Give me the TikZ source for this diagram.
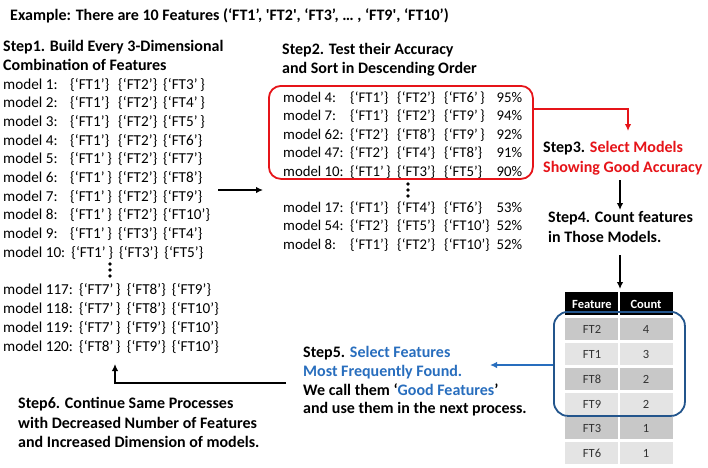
\documentclass[tikz,border=0pt]{standalone}
\usepackage{fontspec}
\setmainfont{Carlito}
\usetikzlibrary{arrows.meta}
\definecolor{myred}{RGB}{230,20,25}
\definecolor{myblue}{RGB}{40,110,190}
\definecolor{boxblue}{RGB}{35,85,140}
\definecolor{rowdark}{RGB}{200,200,200}
\definecolor{rowlight}{RGB}{228,228,228}
\definecolor{celltxt}{RGB}{50,50,50}
\newcommand{\fbr}[1]{\{‘#1’\}}
\newcommand{\gp}{\hspace{6pt}}
\newcommand{\colSa}[1]{\makebox[67pt][l]{#1}}
\newcommand{\colSb}[1]{\makebox[48pt][l]{#1}}
\newcommand{\colSc}[1]{\makebox[45pt][l]{#1}}
\newcommand{\colTa}[1]{\makebox[67pt][l]{#1}}
\newcommand{\colTb}[1]{\makebox[47pt][l]{#1}}
\newcommand{\colTc}[1]{\makebox[47pt][l]{#1}}
\newcommand{\colTd}[2]{\makebox[78pt][l]{#1\hfill #2}}
\begin{document}
\begin{tikzpicture}[x=1pt,y=-1pt,
  txt/.style={anchor=base west, inner sep=0pt, font=\fontsize{15.2}{18}\selectfont},
  rtxt/.style={anchor=base west, inner sep=0pt, font=\fontsize{14.8}{18}\selectfont},
  hd/.style={anchor=base west, inner sep=0pt, font=\fontsize{16}{19}\selectfont\bfseries},
  arr/.style={-{Latex[length=7pt,width=6.5pt]}, line width=1.4pt},
  dot/.style={circle, fill=black, inner sep=0pt, minimum size=3.8pt},
  hdcell/.style={fill=black, text=white, font=\fontsize{12.5}{14}\selectfont\bfseries, inner sep=0pt},
  cell/.style={text=celltxt, font=\fontsize{12.5}{14}\selectfont, inner sep=0pt}]
\useasboundingbox (0,0) rectangle (708,467);
\fill[white] (0,0) rectangle (708,467);

% title
\node[hd] (title) at (10,20) {Example: There are 10 Features (‘FT1’, \textquotesingle FT2\textquotesingle, ‘FT3’, … , ‘FT9\textquotesingle, ‘FT10’)};

% Step 1
\node[hd] (s1a) at (3,51) {Step1. Build Every 3-Dimensional};
\node[hd] (s1b) at (3,70.5) {Combination of Features};
\node[txt] (m1) at (3,89.0) {\colSa{model 1:}\colSb{\fbr{FT1}}\colSc{\fbr{FT2}}\{‘FT3’\,\}};
\node[txt] (m2) at (3,107.7) {\colSa{model 2:}\colSb{\fbr{FT1}}\colSc{\fbr{FT2}}\{‘FT4’\,\}};
\node[txt] (m3) at (3,126.4) {\colSa{model 3:}\colSb{\fbr{FT1}}\colSc{\fbr{FT2}}\{‘FT5’\,\}};
\node[txt] (m4) at (3,145.1) {\colSa{model 4:}\colSb{\fbr{FT1}}\colSc{\fbr{FT2}}\fbr{FT6}};
\node[txt] (m5) at (3,163.8) {\colSa{model 5:}\colSb{\{‘FT1’\,\}}\colSc{\fbr{FT2}}\fbr{FT7}};
\node[txt] (m6) at (3,182.5) {\colSa{model 6:}\colSb{\{‘FT1’\,\}}\colSc{\fbr{FT2}}\fbr{FT8}};
\node[txt] (m7) at (3,201.2) {\colSa{model 7:}\colSb{\{‘FT1’\,\}}\colSc{\fbr{FT2}}\fbr{FT9}};
\node[txt] (m8) at (3,219.9) {\colSa{model 8:}\colSb{\{‘FT1’\,\}}\colSc{\fbr{FT2}}\fbr{FT10}};
\node[txt] (m9) at (3,238.6) {\colSa{model 9:}\colSb{\{‘FT1’\,\}}\colSc{\fbr{FT3}}\fbr{FT4}};
\node[txt] (m10) at (3,257.3) {model 10:\gp\{‘FT1’\,\}\gp\fbr{FT3}\gp\fbr{FT5}};
\node[dot] (d1a) at (110,264) {};
\node[dot] (d1b) at (110,270) {};
\node[dot] (d1c) at (110,276) {};
\node[txt] (m117) at (3,294.5) {model 117:\gp\{‘FT7’\,\}\gp\fbr{FT8}\gp\fbr{FT9}};
\node[txt] (m118) at (3,313.5) {model 118:\gp\{‘FT7’\,\}\gp\fbr{FT8}\gp\fbr{FT10}};
\node[txt] (m119) at (3,332.5) {model 119:\gp\{‘FT7’\,\}\gp\fbr{FT9}\gp\fbr{FT10}};
\node[txt] (m120) at (3,351.5) {model 120:\gp\{‘FT8’\,\}\gp\fbr{FT9}\gp\fbr{FT10}};

% Step1 -> Step2
\coordinate (a1s) at (218,190);
\coordinate (a1e) at (263,190);
\draw[arr] (a1s) -- (a1e);

% Step 2
\node[hd] (s2a) at (282,54) {Step2. Test their Accuracy};
\node[hd] (s2b) at (282,73.5) {and Sort in Descending Order};
\node[draw=myred, line width=1.8pt, rounded corners=12pt, minimum width=264pt, minimum height=93pt, anchor=north west, inner sep=0pt] (redbox) at (268,85) {};
\node[rtxt] (r1) at (283,102) {\colTa{model 4:}\colTb{\fbr{FT1}}\colTc{\fbr{FT2}}\colTd{\{‘FT6’\,\}}{95\%}};
\node[rtxt] (r2) at (283,120.5) {\colTa{model 7:}\colTb{\fbr{FT1}}\colTc{\fbr{FT2}}\colTd{\{‘FT9’\,\}}{94\%}};
\node[rtxt] (r3) at (283,139) {\colTa{model 62:}\colTb{\fbr{FT2}}\colTc{\fbr{FT8}}\colTd{\{‘FT9’\,\}}{92\%}};
\node[rtxt] (r4) at (283,157.5) {\colTa{model 47:}\colTb{\fbr{FT2}}\colTc{\fbr{FT4}}\colTd{\fbr{FT8}}{91\%}};
\node[rtxt] (r5) at (283,176) {\colTa{model 10:}\colTb{\{‘FT1’\,\}}\colTc{\fbr{FT3}}\colTd{\fbr{FT5}}{90\%}};
\node[dot] (d2a) at (408,184) {};
\node[dot] (d2b) at (408,190) {};
\node[dot] (d2c) at (408,196) {};
\node[rtxt] (r6) at (283,212) {\colTa{model 17:}\colTb{\fbr{FT1}}\colTc{\fbr{FT4}}\colTd{\fbr{FT6}}{53\%}};
\node[rtxt] (r7) at (283,230.5) {\colTa{model 54:}\colTb{\fbr{FT2}}\colTc{\fbr{FT5}}\colTd{\fbr{FT10}\,}{52\%}};
\node[rtxt] (r8) at (283,249) {\colTa{model 8:}\colTb{\fbr{FT1}}\colTc{\fbr{FT2}}\colTd{\fbr{FT10}\,}{52\%}};

% Step 3
\coordinate (redc) at (628,109);
\coordinate (rede) at (628,131);
\draw[myred, line width=1.5pt, -{Latex[length=7pt,width=6.5pt]}] (redbox.east |- redc) -- (redc) -- (rede);
\node[hd] (s3a) at (543,152.5) {Step3. \textcolor{myred}{Select Models}};
\node[hd] (s3b) at (543,172.5) {\textcolor{myred}{Showing Good Accuracy}};

% Step 4
\coordinate (a3s) at (620,180);
\coordinate (a3e) at (620,210);
\draw[arr] (a3s) -- (a3e);
\node[hd] (s4a) at (548,222.5) {Step4. Count features};
\node[hd] (s4b) at (548,242.5) {in Those Models.};
\coordinate (a4s) at (620,255);
\coordinate (a4e) at (620,289);
\draw[arr] (a4s) -- (a4e);

% table
\fill[black] (565,292) rectangle (673,315);
\fill[rowdark]  (565,318) rectangle (673,340);
\fill[rowlight] (565,343) rectangle (673,365);
\fill[rowdark]  (565,367.5) rectangle (673,390);
\fill[rowlight] (565,392.5) rectangle (673,415);
\fill[rowdark]  (565,417) rectangle (673,439);
\fill[rowlight] (565,442) rectangle (673,464);
\draw[white, line width=1.6pt] (619,292) -- (619,464);
\node[hdcell] (hf) at (592,304) {Feature};
\node[hdcell] (hc) at (646,304) {Count};
\node[cell] (f1) at (592,329) {FT2};  \node[cell] (c1) at (646,329) {4};
\node[cell] (f2) at (592,354) {FT1};  \node[cell] (c2) at (646,354) {3};
\node[cell] (f3) at (592,379) {FT8};  \node[cell] (c3) at (646,379) {2};
\node[cell] (f4) at (592,404) {FT9};  \node[cell] (c4) at (646,404) {2};
\node[cell] (f5) at (592,428) {FT3};  \node[cell] (c5) at (646,428) {1};
\node[cell] (f6) at (592,453) {FT6};  \node[cell] (c6) at (646,453) {1};
\node[draw=boxblue, line width=1.8pt, rounded corners=14pt, minimum width=131pt, minimum height=104pt, anchor=north west, inner sep=0pt] (bluebox) at (553,311) {};

% Step 5
\coordinate (a5e) at (490,365);
\draw[myblue, line width=1.5pt, -{Latex[length=7pt,width=6.5pt]}] (bluebox.west |- a5e) -- (a5e);
\node[hd] (s5a) at (303,357.5) {Step5. \textcolor{myblue}{Select Features}};
\node[hd] (s5b) at (303,376) {\textcolor{myblue}{Most Frequently Found.}};
\node[hd] (s5c) at (303,395) {We call them ‘\textcolor{myblue}{Good Features}’};
\node[hd] (s5d) at (303,413.5) {and use them in the next process.};

% Step 6
\coordinate (a6s) at (286,383);
\coordinate (a6c) at (115,383);
\coordinate (a6e) at (115,364);
\draw[arr] (a6s) -- (a6c) -- (a6e);
\node[hd] (s6a) at (18,408.5) {Step6. Continue Same Processes};
\node[hd] (s6b) at (18,428) {with Decreased Number of Features};
\node[hd] (s6c) at (18,447.5) {and Increased Dimension of models.};
\end{tikzpicture}
\end{document}
